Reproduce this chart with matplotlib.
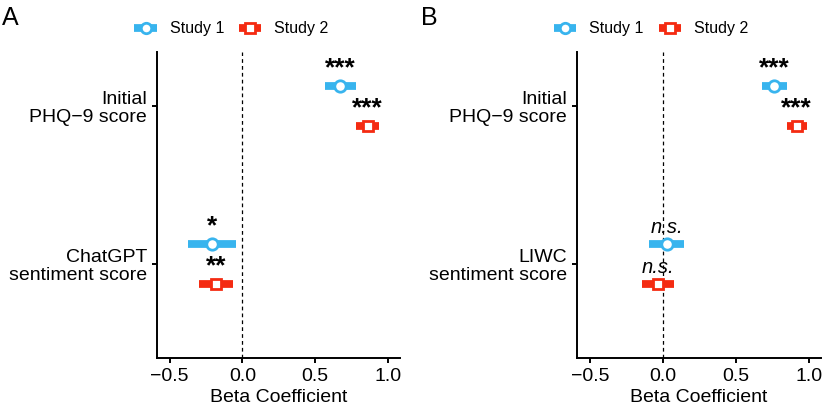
import matplotlib
matplotlib.use("Agg")
import matplotlib.pyplot as plt
from matplotlib.lines import Line2D

plt.rcParams['font.family'] = ['Liberation Sans', 'DejaVu Sans']

# ---- data ----
categories_A = ["Initial\nPHQ\u22129 score", "ChatGPT\nsentiment score"]
categories_B = ["Initial\nPHQ\u22129 score", "LIWC\nsentiment score"]
studies = ["Study 1", "Study 2"]

# Panel A: estimate, ci low, ci high (per category)
A_s1_est = [0.674, -0.207]
A_s1_lo = [0.57, -0.372]
A_s1_hi = [0.78, -0.043]
A_s2_est = [0.862, -0.181]
A_s2_lo = [0.78, -0.30]
A_s2_hi = [0.94, -0.062]
A_s1_sig = ["***", "*"]
A_s2_sig = ["***", "**"]

# Panel B
B_s1_est = [0.762, 0.025]
B_s1_lo = [0.676, -0.098]
B_s1_hi = [0.853, 0.145]
B_s2_est = [0.917, -0.035]
B_s2_lo = [0.848, -0.143]
B_s2_hi = [0.99, 0.075]
B_s1_sig = ["***", "n.s."]
B_s2_sig = ["***", "n.s."]

xticks = [-0.5, 0.0, 0.5, 1.0]
xticklabels = ["\u22120.5", "0.0", "0.5", "1.0"]

BLUE = "#38B4EE"
RED = "#F42B12"

fig = plt.figure(figsize=(8.22, 4.07), dpi=100)
axA = fig.add_axes([0.1906, 0.1204, 0.296, 0.7518])
axB = fig.add_axes([0.7016, 0.1204, 0.2975, 0.7518])

ypos = [2, 1]
off = 0.127


def draw(ax, cats, s1, s2, sig1, sig2):
    series = [(s1, sig1, BLUE, 'o', +off), (s2, sig2, RED, 's', -off)]
    for (est, lo, hi), sig, col, mk, dy in series:
        for i, y in enumerate(ypos):
            yy = y + dy
            ax.plot([lo[i], hi[i]], [yy, yy], color=col, lw=5.6,
                    solid_capstyle='butt', zorder=2)
            ax.plot([est[i]], [yy], marker=mk, ms=8.2 if mk == 'o' else 7.8,
                    mfc='white', mec=col, mew=2.0, zorder=3, ls='none')
            s = sig[i]
            if s == "n.s.":
                ax.annotate(s, (est[i], yy), xytext=(0, 8.2),
                            textcoords='offset points', ha='center',
                            va='baseline', fontsize=14.5, style='italic')
            else:
                ax.annotate(s, (est[i], yy), xytext=(0, 7.5),
                            textcoords='offset points', ha='center',
                            va='baseline', fontsize=19, fontweight='bold')
    ax.axvline(0, color='black', lw=0.9, ls=(0, (3, 2.5)), zorder=1)
    ax.set_xlim(-0.59, 1.085)
    ax.set_ylim(0.405, 2.342)
    ax.set_yticks(ypos)
    ax.set_yticklabels(cats, fontsize=14, linespacing=1.05, ha='right')
    ax.set_xticks(xticks)
    ax.set_xticklabels(xticklabels, fontsize=14)
    ax.set_xlabel("Beta Coefficient", fontsize=14, labelpad=3)
    for sp in ['top', 'right']:
        ax.spines[sp].set_visible(False)
    for sp in ['left', 'bottom']:
        ax.spines[sp].set_linewidth(1.4)
    ax.tick_params(axis='both', width=1.4, length=3.6, pad=3.4)


draw(axA, categories_A, (A_s1_est, A_s1_lo, A_s1_hi), (A_s2_est, A_s2_lo, A_s2_hi),
     A_s1_sig, A_s2_sig)
draw(axB, categories_B, (B_s1_est, B_s1_lo, B_s1_hi), (B_s2_est, B_s2_lo, B_s2_hi),
     B_s1_sig, B_s2_sig)

handles = [Line2D([0], [0], color=BLUE, lw=5.6, marker='o', ms=7.5, mfc='white',
                  mec=BLUE, mew=2.0, solid_capstyle='butt'),
           Line2D([0], [0], color=RED, lw=5.6, marker='s', ms=7, mfc='white',
                  mec=RED, mew=2.0, solid_capstyle='butt')]

for cx in [0.2816, 0.792]:
    fig.legend(handles, studies, loc='center', bbox_to_anchor=(cx, 0.929),
               ncol=2, frameon=False, fontsize=11.5, handlelength=1.4,
               handletextpad=0.8, columnspacing=0.95, borderaxespad=0,
               borderpad=0)

fig.text(0.002, 0.985, "A", fontsize=18, va='top', ha='left')
fig.text(0.512, 0.985, "B", fontsize=18, va='top', ha='left')

fig.savefig("out.png", dpi=100)
